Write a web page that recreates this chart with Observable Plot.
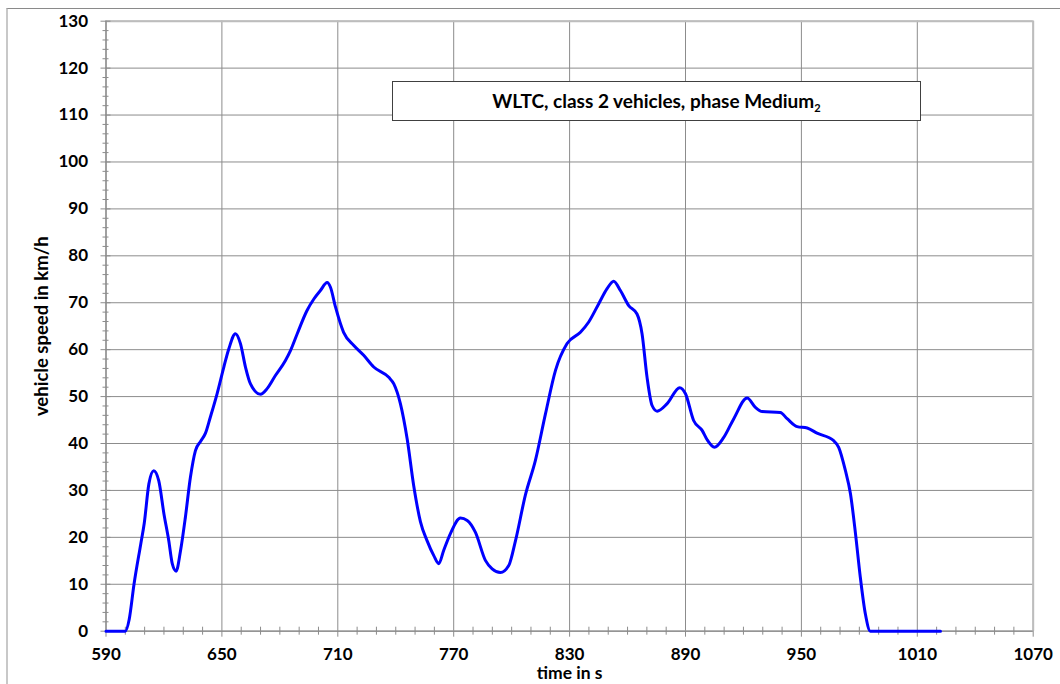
<!DOCTYPE html>
<html><head><meta charset="utf-8">
<script src="https://cdn.jsdelivr.net/npm/d3@7"></script>
<script src="https://cdn.jsdelivr.net/npm/@observablehq/plot@0.6"></script>
<style>
html,body{margin:0;padding:0;background:#fff;}
#wrap{position:relative;width:1060px;height:684px;overflow:hidden;font-family:Lato,"Open Sans",sans-serif;}
#border{position:absolute;left:6px;top:8px;width:1070px;height:700px;border-left:2px solid #c8c8c8;border-top:1px solid #8a8a8a;box-sizing:border-box;}
#chart{position:absolute;left:0;top:0;}
#title{position:absolute;left:392px;top:81px;width:529px;height:40px;border:1px solid #404040;background:#fff;box-sizing:border-box;text-align:center;line-height:38px;font-weight:bold;font-size:19px;color:#000;}
#title sub{font-size:11px;vertical-align:-4px;line-height:0;}
</style></head>
<body>
<div id="wrap"><div id="border"></div><div id="chart"></div><div id="title"><span>WLTC, class 2 vehicles, phase Medium<sub>2</sub></span></div></div>
<script>
// time in s
const times = [590,600,602,604.5,608,609.8,612.2,614.7,617.3,620,622.5,624.3,626.3,628.6,631.1,633.7,636.3,639,641.5,644,647.5,651,653.6,657,659.6,662.2,664.8,670,673.4,677.7,682.9,685.5,689,694,697.6,701,704.5,706.2,708.8,713,718.3,723.4,728.6,736.4,739,742.4,745.9,749.3,752.8,756.2,759.7,762.3,764.8,768.3,773.5,777,781.2,786.4,789.9,794.2,798.5,802,807.1,812.3,817.5,822.7,828.7,835.6,839.9,845.1,849.4,852.8,856.3,860.6,864.9,867.5,870.1,872.7,875.3,880.5,887,890,894.2,898.6,901.2,905,909.8,915,921.9,926.2,929.7,939.1,942.6,947.8,953,958.1,966.7,969.3,972.8,975.4,978,980.5,983.1,985.7,1022];
// vehicle speed in km/h
const speeds = [0,0,2.5,10,18.6,23,31.4,34.2,32.1,25,19.3,14.4,12.8,17.2,24.3,32.8,38.5,40.5,42.2,45.6,50.6,56.3,60.2,63.4,61.3,56.3,52.7,50.5,51.7,54.5,57.7,59.8,63.4,68.3,70.8,72.6,74.3,73.3,69.1,63.7,60.9,58.8,56.3,54.1,52.7,48.5,41,31,23.3,19.3,16.1,14.4,17.2,20.8,24.1,23.6,21.1,15.1,13.3,12.5,14,19.3,29,36.4,46.3,55.6,61.3,63.7,65.9,69.8,73,74.6,72.6,69.4,67.6,63.4,54.1,48.1,46.9,48.5,51.9,50.6,44.9,42.8,40.8,39.2,41.3,45.3,49.7,47.7,46.8,46.6,45.3,43.6,43.3,42.2,40.6,39.2,34.2,29.3,20.8,11.5,3.7,0,0];
// axis ticks
const xTicks = [590,650,710,770,830,890,950,1010,1070];
const xMinorTicks = [600,610,620,630,640,660,670,680,690,700,720,730,740,750,760,780,790,800,810,820,840,850,860,870,880,900,910,920,930,940,960,970,980,990,1000,1020,1030,1040,1050,1060];
const yTicks = [0,10,20,30,40,50,60,70,80,90,100,110,120,130];
const yMinorTicks = d3.range(0, 131, 2).filter(v => v % 10 !== 0);
const xLabel = "time in s";
const yLabel = "vehicle speed in km/h";

const data = times.map((t, i) => ({t, v: speeds[i]}));
const grid = "#8c8c8c";
const font = {fontSize: 17, fontWeight: "bold", fill: "#000"};
const labelFont = {fontSize: 18.5, fontWeight: "bold", fill: "#000", textAnchor: "middle", lineAnchor: "middle"};

const plot = Plot.plot({
  width: 1060,
  height: 684,
  marginLeft: 105.5,
  marginRight: 27.3,
  marginTop: 20.7,
  marginBottom: 53.3,
  style: {background: "transparent", fontFamily: "Lato, 'Open Sans', sans-serif", color: "#000"},
  x: {domain: [590, 1070]},
  y: {domain: [0, 130]},
  marks: [
    Plot.gridX(xTicks, {stroke: grid, strokeOpacity: 1}),
    Plot.gridY(yTicks, {stroke: grid, strokeOpacity: 1}),
    Plot.ruleY([130], {stroke: "#bdbdbd", strokeWidth: 2}),
    Plot.ruleX([1070], {stroke: "#bdbdbd", strokeWidth: 2}),
    Plot.ruleY([0], {stroke: grid, strokeWidth: 1.3}),
    Plot.ruleX([590], {stroke: grid, strokeWidth: 1.3}),
    Plot.axisX(xMinorTicks, {tickSize: 8, dy: -4, tickFormat: () => "", label: null, stroke: grid, strokeOpacity: 1}),
    Plot.axisX(xTicks, {tickSize: 6, tickFormat: () => "", label: null, stroke: grid, strokeOpacity: 1}),
    Plot.axisY(yMinorTicks, {tickSize: 6, dx: 3, tickFormat: () => "", label: null, stroke: grid, strokeOpacity: 1}),
    Plot.axisY(yTicks, {tickSize: 10, dx: 5, tickFormat: () => "", label: null, stroke: grid, strokeOpacity: 1}),
    Plot.axisX(xTicks, {tickSize: 0, tickPadding: 16.5, tickFormat: d => String(d), label: null, ...font}),
    Plot.axisY(yTicks, {tickSize: 0, tickPadding: 18, tickFormat: d => String(d), label: null, ...font}),
    Plot.line(data, {x: "t", y: "v", stroke: "#0000ff", strokeWidth: 3, curve: "monotone-x"}),
    Plot.text([yLabel], {frameAnchor: "left", dx: -63.5, rotate: -90, ...labelFont}),
    Plot.text([xLabel], {frameAnchor: "bottom", dy: 42.5, ...labelFont, fontSize: 17.5})
  ]
});
document.getElementById("chart").appendChild(plot);
</script>
</body></html>
